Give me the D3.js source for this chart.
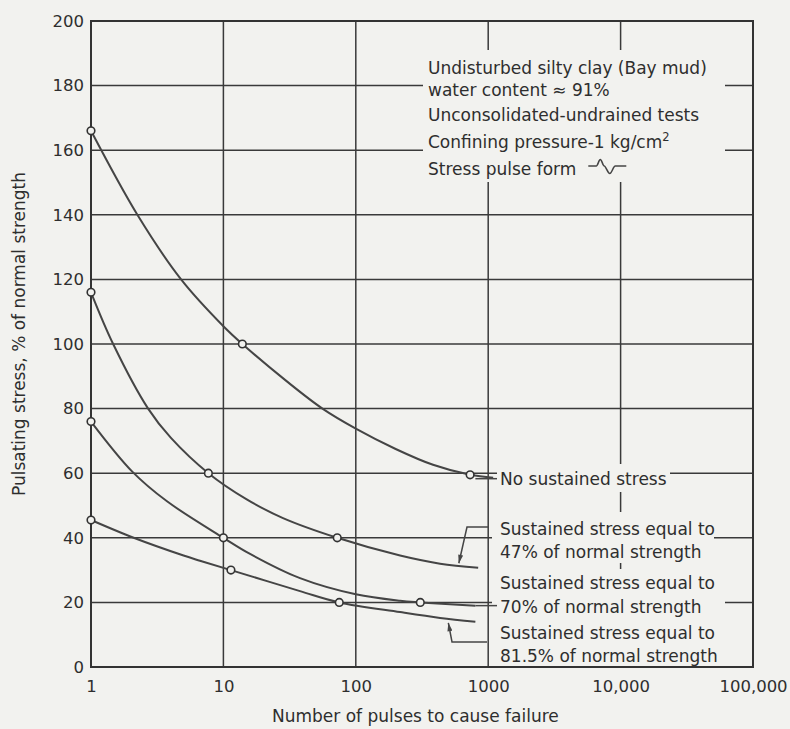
<!DOCTYPE html>
<html>
<head>
<meta charset="utf-8">
<script src="https://cdn.jsdelivr.net/npm/d3@7"></script>
<style>
  html, body { margin: 0; padding: 0; background: #f2f2ef; }
  svg { display: block; }
  text { font-family: "DejaVu Sans", sans-serif; }
</style>
</head>
<body>
<svg id="chart" width="790" height="729"></svg>
<script>
// Axis ticks: number of pulses (log scale) and pulsating stress (% of normal strength)
const xTickValues = [1, 10, 100, 1000, 10000, 100000];
const xTickLabels = ["1", "10", "100", "1000", "10,000", "100,000"];
const yTickValues = [0, 20, 40, 60, 80, 100, 120, 140, 160, 180, 200];

// No sustained stress: fitted curve and test points
const noSustainedPulses = [1, 2.24, 4.79, 10, 13.9, 30, 56, 100, 200, 383, 730, 1090];
const noSustainedStress = [166, 140, 120, 105.5, 100, 88.5, 80, 73.8, 67.5, 62.6, 59.5, 58.6];
const noSustainedTestPulses = [1, 13.9, 730];
const noSustainedTestStress = [166, 100, 59.5];

// Sustained stress equal to 47% of normal strength
const sustained47Pulses = [1, 1.47, 2.7, 4, 7.7, 15, 28.2, 72.4, 216, 433, 840];
const sustained47Stress = [116, 100, 80, 71, 60, 51.9, 46.1, 40, 34.5, 32, 30.7];
const sustained47TestPulses = [1, 7.7, 72.4];
const sustained47TestStress = [116, 60, 40];

// Sustained stress equal to 70% of normal strength
const sustained70Pulses = [1, 2.05, 3.75, 10, 15.9, 37.9, 100, 216, 307, 800];
const sustained70Stress = [76, 60.5, 51.3, 40, 35, 27.5, 22.5, 20.5, 20, 19];
const sustained70TestPulses = [1, 10, 307];
const sustained70TestStress = [76, 40, 20];

// Sustained stress equal to 81.5% of normal strength
const sustained815Pulses = [1, 2.1, 5, 6.65, 11.4, 37.9, 75, 216, 433, 800];
const sustained815Stress = [45.5, 40, 34.5, 32.9, 30, 23.5, 20, 17, 15.2, 14];
const sustained815TestPulses = [1, 11.4, 75];
const sustained815TestStress = [45.5, 30, 20];

// Text blocks
const conditionLines = [
  "Undisturbed silty clay (Bay mud)",
  "water content \u2248 91%",
  "Unconsolidated-undrained tests",
  "Confining pressure-1 kg/cm",
  "Stress pulse form"
];
const label47 = ["Sustained stress equal to", "47% of normal strength"];
const label70 = ["Sustained stress equal to", "70% of normal strength"];
const label815 = ["Sustained stress equal to", "81.5% of normal strength"];
const labelNone = "No sustained stress";
const xTitle = "Number of pulses to cause failure";
const yTitle = "Pulsating stress, % of normal strength";

const zip = (a, b) => a.map((v, i) => [v, b[i]]);
const series = [
  { curve: zip(noSustainedPulses, noSustainedStress), tests: zip(noSustainedTestPulses, noSustainedTestStress) },
  { curve: zip(sustained47Pulses, sustained47Stress), tests: zip(sustained47TestPulses, sustained47TestStress) },
  { curve: zip(sustained70Pulses, sustained70Stress), tests: zip(sustained70TestPulses, sustained70TestStress) },
  { curve: zip(sustained815Pulses, sustained815Stress), tests: zip(sustained815TestPulses, sustained815TestStress) }
];

const W = 790, H = 729;
const paper = "#f2f2ef";
const ink = "#2e2e2e";
const lineInk = "#454545";
const fs = 17;

const svg = d3.select("#chart");
svg.append("rect").attr("width", W).attr("height", H).attr("fill", paper);

const x = d3.scaleLog().domain([1, 100000]).range([91, 753]);
const y = d3.scaleLinear().domain([0, 200]).range([667, 21]);

// Grid
const grid = svg.append("g").attr("stroke", "#3a3a3a").attr("stroke-width", 1.5);
grid.append("g").selectAll("line").data(xTickValues.slice(1, -1)).join("line")
  .attr("x1", d => x(d)).attr("x2", d => x(d))
  .attr("y1", y(200)).attr("y2", y(0));
grid.append("g").selectAll("line").data(yTickValues.slice(1, -1)).join("line")
  .attr("y1", d => y(d)).attr("y2", d => y(d))
  .attr("x1", x(1)).attr("x2", x(100000));

// Cleared areas behind the annotation text
const clear = svg.append("g").attr("fill", paper);
clear.append("rect").attr("x", 423).attr("y", 50).attr("width", 302).attr("height", 132);
clear.append("rect").attr("x", 497).attr("y", 464).attr("width", 173).attr("height", 28);
clear.append("rect").attr("x", 492).attr("y", 512).attr("width", 222).attr("height", 51);
clear.append("rect").attr("x", 492).attr("y", 569).attr("width", 233).attr("height", 48);
clear.append("rect").attr("x", 492).attr("y", 617).attr("width", 238).attr("height", 49);

// Frame
svg.append("rect")
  .attr("x", x(1)).attr("y", y(200))
  .attr("width", x(100000) - x(1)).attr("height", y(0) - y(200))
  .attr("fill", "none").attr("stroke", "#333").attr("stroke-width", 2);

// Axes
const yAxis = d3.axisLeft(y).tickValues(yTickValues).tickSize(0).tickPadding(7);
svg.append("g").attr("transform", `translate(${x(1)},0)`).call(yAxis)
  .attr("font-family", "DejaVu Sans, sans-serif").attr("font-size", 16.5).attr("color", ink)
  .call(g => g.select(".domain").remove());

const xAxis = d3.axisBottom(x).tickValues(xTickValues)
  .tickFormat((d, i) => xTickLabels[i]).tickSize(0).tickPadding(13);
svg.append("g").attr("transform", `translate(0,${y(0)})`).call(xAxis)
  .attr("font-family", "DejaVu Sans, sans-serif").attr("font-size", 16.5).attr("color", ink)
  .call(g => g.select(".domain").remove());

// Axis titles
svg.append("text").attr("x", 272).attr("y", 722)
  .attr("font-size", fs).attr("fill", ink).text(xTitle);
svg.append("text").attr("transform", "translate(25,334) rotate(-90)")
  .attr("text-anchor", "middle").attr("font-size", fs).attr("fill", ink).text(yTitle);

// Curves
const line = d3.line().x(d => x(d[0])).y(d => y(d[1])).curve(d3.curveCatmullRom.alpha(0.5));
svg.append("g").attr("fill", "none").attr("stroke", lineInk).attr("stroke-width", 2)
  .selectAll("path").data(series).join("path").attr("d", d => line(d.curve));

// Leaders
const defs = svg.append("defs");
defs.append("marker").attr("id", "arrow").attr("viewBox", "0 0 10 6")
  .attr("refX", 10).attr("refY", 3).attr("markerWidth", 9).attr("markerHeight", 5)
  .attr("markerUnits", "userSpaceOnUse").attr("orient", "auto")
  .append("path").attr("d", "M0,0 L10,3 L0,6 Z").attr("fill", lineInk);

const leaders = svg.append("g").attr("fill", "none").attr("stroke", lineInk).attr("stroke-width", 1.5);
leaders.append("path").attr("d", `M${x(800)},${y(58.3)} H497`);
leaders.append("path").attr("d", `M${x(800)},${y(19)} H497`);
leaders.append("path").attr("d", `M488,527 H467 L${x(600)},${y(31.2) - 3}`).attr("marker-end", "url(#arrow)");
leaders.append("path").attr("d", `M487,642 H452 L${x(500)},${y(14.6) + 3}`).attr("marker-end", "url(#arrow)");

// Test points
svg.append("g").attr("fill", paper).attr("stroke", "#333").attr("stroke-width", 1.6)
  .selectAll("circle").data(series.flatMap(s => s.tests)).join("circle")
  .attr("cx", d => x(d[0])).attr("cy", d => y(d[1])).attr("r", 3.8);

// Test conditions block
const cond = svg.append("g").attr("font-size", fs).attr("fill", ink);
const condBaselines = [74, 96, 121, 148, 175];
conditionLines.forEach((t, i) => {
  const tx = cond.append("text").attr("x", 428).attr("y", condBaselines[i]).text(t);
  if (i === 3) tx.append("tspan").attr("font-size", 11.5).attr("dy", -7).text("2");
});
// Stress pulse form sketch
const pulseText = cond.selectAll("text").filter((d, i) => i === 4).node();
const pulseX = 428 + pulseText.getComputedTextLength() + 12;
svg.append("path")
  .attr("transform", `translate(${pulseX},166)`)
  .attr("d", "M0,0 H8 C9.5,0 10.5,-6.5 12,-6.5 C13.5,-6.5 14.5,0 16,0 C17.5,0 19.5,7.5 21.5,7.5 C23.5,7.5 25,0 27,0 H38")
  .attr("fill", "none").attr("stroke", lineInk).attr("stroke-width", 1.6);

// Curve labels
const labels = svg.append("g").attr("font-size", fs).attr("fill", ink);
labels.append("text").attr("x", 500).attr("y", 485).text(labelNone);
[[label47, [535, 558]], [label70, [589, 612.5]], [label815, [639, 662]]].forEach(([lines, ys]) => {
  lines.forEach((t, i) => labels.append("text").attr("x", 500).attr("y", ys[i]).text(t));
});
</script>
</body>
</html>
